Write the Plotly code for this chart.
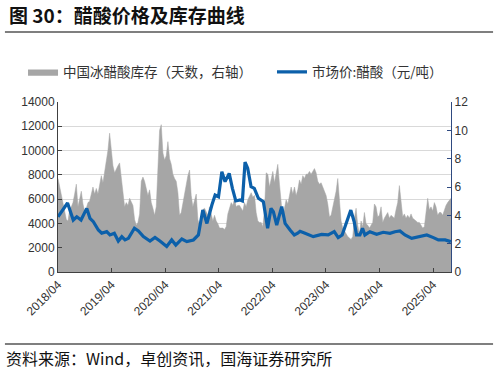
import pandas as pd
import plotly.graph_objects as go

# ---------------- data ----------------
# Inventory of glacial acetic acid in China (days), sampled evenly 2018-04-01 .. 2025-08-01
inv_start = "2018-04-01"
inv_end = "2025-08-01"
inventory_days = [
    6.6, 6.0, 5.5, 4.8, 4.1, 3.7, 3.6, 4.4, 4.6, 4.9, 5.5, 6.2, 4.6, 5.2, 5.7, 4.8, 4.3, 4.5, 4.9, 5.0,
    5.6, 6.0, 5.5, 5.9, 5.5, 6.2, 6.8, 6.3, 7.0, 7.7, 8.6, 9.8, 8.5, 7.5, 7.0, 7.3, 7.5, 7.7, 6.6, 5.5,
    4.6, 4.9, 4.7, 5.2, 5.0, 4.7, 3.7, 3.3, 3.5, 4.1, 6.4, 6.7, 6.4, 5.8, 5.4, 5.8, 4.9, 4.5, 4.0, 4.6,
    7.4, 10.0, 10.4, 8.4, 7.9, 8.2, 9.2, 8.0, 7.6, 6.9, 6.6, 6.4, 5.6, 4.0, 4.2, 4.9, 5.3, 6.2, 6.8, 7.2,
    5.4, 4.6, 5.0, 5.5, 3.7, 3.3, 3.5, 4.4, 4.5, 4.3, 4.0, 4.6, 4.1, 3.6, 4.0, 3.6, 3.4, 3.1, 3.1, 3.1,
    3.0, 3.2, 4.1, 4.5, 4.9, 4.7, 5.2, 4.6, 4.7, 4.7, 4.5, 4.3, 4.9, 4.6, 5.1, 5.4, 5.6, 5.3, 5.4, 4.2,
    3.6, 3.5, 3.5, 3.2, 4.4, 7.0, 6.9, 6.0, 6.5, 7.1, 6.3, 6.9, 7.6, 6.2, 4.9, 3.7, 4.5, 5.1, 4.8, 5.5,
    6.0, 5.5, 6.0, 5.4, 5.8, 6.5, 6.2, 6.8, 6.6, 6.9, 6.9, 7.1, 6.9, 7.1, 7.3, 7.0, 6.4, 6.2, 6.3, 6.0,
    5.7, 5.4, 4.8, 3.9, 4.0, 4.6, 5.0, 5.7, 6.6, 5.3, 3.6, 3.1, 2.9, 2.6, 2.5, 2.4, 2.3, 2.5, 3.8, 4.5,
    3.3, 2.7, 3.6, 3.2, 4.2, 3.4, 3.3, 3.1, 3.3, 3.5, 4.8, 4.6, 3.9, 4.0, 4.6, 3.5, 3.8, 4.0, 4.2, 3.8,
    4.0, 3.9, 3.8, 4.4, 4.9, 6.1, 5.2, 3.9, 4.1, 3.8, 4.0, 3.8, 4.1, 3.8, 3.7, 3.6, 3.5, 3.5, 3.3, 3.1,
    3.2, 4.3, 5.2, 4.4, 4.6, 4.3, 4.9, 4.6, 4.0, 4.2, 4.2, 4.0, 4.4, 4.7, 4.9, 5.1, 5.2,
]
inv_dates = pd.date_range(inv_start, inv_end, periods=len(inventory_days))

# Market price of acetic acid (yuan/ton)
price_dates = [
    "2018-04-01", "2018-06-05", "2018-07-14", "2018-08-07", "2018-09-05", "2018-10-14", "2018-11-05",
    "2018-11-28", "2019-01-01", "2019-01-24", "2019-02-27", "2019-03-21", "2019-04-20", "2019-05-17",
    "2019-06-10", "2019-07-02", "2019-07-25", "2019-09-04", "2019-10-01", "2019-11-04", "2019-12-19",
    "2020-01-22", "2020-02-25", "2020-04-11", "2020-05-15", "2020-06-12", "2020-07-23", "2020-08-26",
    "2020-10-10", "2020-11-13", "2020-12-13", "2021-01-10", "2021-02-13", "2021-03-07", "2021-03-30",
    "2021-04-22", "2021-05-14", "2021-06-11", "2021-07-03", "2021-07-26", "2021-08-24", "2021-09-09",
    "2021-09-27", "2021-10-15", "2021-11-07", "2021-11-29", "2021-12-27", "2022-01-30", "2022-02-28",
    "2022-03-23", "2022-04-08", "2022-05-01", "2022-06-04", "2022-06-27", "2022-07-31", "2022-08-29",
    "2022-09-21", "2022-10-07", "2022-11-10", "2023-01-05", "2023-03-03", "2023-04-17", "2023-05-28",
    "2023-06-24", "2023-07-21", "2023-08-20", "2023-09-18", "2023-10-11", "2023-10-27", "2023-11-19",
    "2023-12-07", "2023-12-23", "2024-01-26", "2024-03-12", "2024-04-26", "2024-06-11", "2024-07-15",
    "2024-08-18", "2024-09-21", "2024-11-06", "2025-01-02", "2025-02-17", "2025-04-03", "2025-05-07",
    "2025-06-22", "2025-07-31",
]
price_values = [
    4550, 5680, 4280, 4550, 4280, 5240, 4420,
    4140, 3460, 3190, 3320, 3050, 3190, 2550,
    2910, 2640, 2770, 3600, 3380, 2910, 2550,
    2850, 2550, 2100, 2640, 2220, 2720, 2500,
    2640, 3050, 5100, 4000, 5520, 6340, 6200,
    8260, 7440, 8120, 6890, 5850, 5930, 5850,
    9050, 8540, 7030, 6890, 6070, 5790, 3600,
    5240, 4970, 3870, 5380, 4000, 3460, 3050,
    3190, 3350, 3190, 2910, 3100, 3050, 3320,
    2830, 3050, 4000, 5100, 4140, 3050, 3050,
    3600, 3050, 3320, 3100, 3270, 3190, 3320,
    3380, 3050, 2770, 2910, 3050, 2830, 2640,
    2640, 2500,
]

tick_dates = ["2018-04-01", "2019-04-01", "2020-04-01", "2021-04-01",
              "2022-04-01", "2023-04-01", "2024-04-01", "2025-04-01"]
tick_labels = ["2018/04", "2019/04", "2020/04", "2021/04",
               "2022/04", "2023/04", "2024/04", "2025/04"]

name_inv = "中国冰醋酸库存（天数，右轴）"
name_price = "市场价:醋酸（元/吨）"
title_text = "<b>图 30：醋酸价格及库存曲线</b>"
source_text = "资料来源：Wind，卓创资讯，国海证券研究所"

# ---------------- figure ----------------
FONT = "Liberation Sans, Arial, Noto Sans CJK SC, sans-serif"
CJK = "Noto Sans CJK SC, Liberation Sans, sans-serif"

fig = go.Figure()
fig.add_trace(go.Scatter(
    x=inv_dates, y=inventory_days, name=name_inv, yaxis="y", legend="legend",
    mode="lines", line=dict(color="#A6A6A6", width=0.5), fill="tozeroy",
    fillcolor="#A6A6A6",
))
fig.add_trace(go.Scatter(
    x=pd.to_datetime(price_dates), y=price_values, name=name_price, yaxis="y2",
    legend="legend2",
    mode="lines", line=dict(color="#0C60AA", width=3.2),
))

legend_common = dict(orientation="h", xanchor="left", y=1.176, yanchor="middle",
                     font=dict(family=CJK, size=13.5, color="#333333"),
                     itemwidth=30, bgcolor="rgba(0,0,0,0)")

fig.update_layout(
    width=498, height=372,
    margin=dict(l=58, r=47, t=102, b=100),
    paper_bgcolor="white", plot_bgcolor="white",
    font=dict(family=FONT, size=12, color="#333333"),
    showlegend=True,
    legend=dict(x=-0.089, **legend_common),
    legend2=dict(x=0.5445, **legend_common),
    xaxis=dict(
        type="date", range=["2018-04-01", "2025-08-01"],
        tickvals=pd.to_datetime(tick_dates), ticktext=tick_labels, tickangle=-45,
        ticks="inside", ticklen=4, tickcolor="#404040",
        showline=True, linecolor="#404040", linewidth=1,
        showgrid=False, zeroline=False,
        tickfont=dict(size=12, color="#333333"),
    ),
    yaxis=dict(
        side="right", range=[0, 12], dtick=2, tick0=0,
        showgrid=False, zeroline=False,
        showline=True, linecolor="#2F4A80", linewidth=1.2,
        ticks="inside", ticklen=4, tickcolor="#2F4A80",
        tickfont=dict(size=12, color="#333333"),
    ),
    yaxis2=dict(
        overlaying="y", side="left", range=[0, 14000], dtick=2000, tick0=0,
        tickformat="d",
        showgrid=True, gridcolor="#D9D9D9", gridwidth=1, zeroline=False,
        showline=True, linecolor="#404040", linewidth=1,
        ticks="inside", ticklen=4, tickcolor="#404040",
        tickfont=dict(size=12, color="#333333"),
    ),
    annotations=[
        dict(text=title_text, xref="paper", yref="paper", x=-0.13, y=1.512,
             xanchor="left", yanchor="middle", showarrow=False,
             font=dict(family=CJK, size=19, color="#111111")),
        dict(text=source_text, xref="paper", yref="paper", x=-0.137, y=-0.506,
             xanchor="left", yanchor="middle", showarrow=False,
             font=dict(family=CJK, size=16, color="#111111")),
    ],
    shapes=[
        dict(type="line", xref="paper", yref="paper", x0=-0.135, x1=1.107, y0=1.412, y1=1.412,
             line=dict(color="#7F7F7F", width=2)),
        dict(type="line", xref="paper", yref="paper", x0=-0.135, x1=1.107, y0=-0.4235, y1=-0.4235,
             line=dict(color="#7F7F7F", width=2)),
    ],
)

fig.write_html("out.html")
